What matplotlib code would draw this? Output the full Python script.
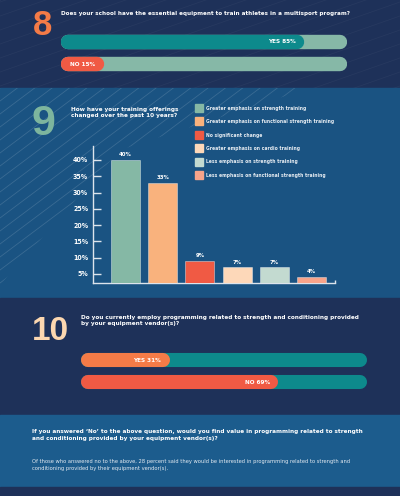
import matplotlib
matplotlib.use('Agg')
import matplotlib.pyplot as plt
from matplotlib import font_manager as fm
from matplotlib.patches import Rectangle, Polygon
import numpy as np

# pick a narrow face if one is installed, otherwise a plain sans
narrow = None
for f in fm.fontManager.ttflist:
    if 'Narrow' in f.name or 'Condensed' in f.name or f.stretch in ('condensed', 'semi-condensed'):
        narrow = (f.name, f.stretch)
        break
if narrow is None:
    narrow = ('Roboto', 'normal')
plt.rcParams['font.family'] = [narrow[0], 'DejaVu Sans']
plt.rcParams['font.stretch'] = narrow[1]
WIDE = ['Liberation Sans', 'DejaVu Sans']

# ---- data ----
q8_text = 'Does your school have the essential equipment to train athletes in a multisport program?'
q8_labels = ['YES', 'NO']
q8_values = [85, 15]

q9_text = 'How have your training offerings\nchanged over the past 10 years?'
q9_labels = ['Greater emphasis on strength training',
             'Greater emphasis on functional strength training',
             'No significant change',
             'Greater emphasis on cardio training',
             'Less emphasis on strength training',
             'Less emphasis on functional strength training']
q9_values = [40, 33, 9, 7, 7, 4]
q9_ticks = [5, 10, 15, 20, 25, 30, 35, 40]

q10_text = ('Do you currently employ programming related to strength and conditioning provided\n'
            'by your equipment vendor(s)?')
q10_labels = ['YES', 'NO']
q10_values = [31, 69]

followup_q = ("If you answered \u2018No\u2019 to the above question, would you find value in programming related to strength\n"
              "and conditioning provided by your equipment vendor(s)?")
followup_a = ("Of those who answered no to the above, 28 percent said they would be interested in programming related to strength and\n"
              "conditioning provided by their equipment vendor(s).")

# ---- colours ----
NAVY = '#1e3159'
BLUE = '#1a5382'
BLUE2 = '#1c5c8d'
ORANGE = '#f47b47'
RED = '#f05a44'
TEAL = '#0d8a8c'
SAGE_TRACK = '#86b8a7'
bar_colors = ['#85b8a5', '#f9b27d', '#f05a44', '#fdd8b9', '#c3dad0', '#f8a48a']
AXIS_C = '#dce4ec'

W, H = 400, 496
fig = plt.figure(figsize=(W / 100, H / 100), dpi=100)
renderer = fig.canvas.get_renderer()


def fit(artists, target_px):
    # scale font size so the widest artist is target_px wide
    w = max(a.get_window_extent(renderer).width for a in artists)
    size = artists[0].get_fontsize() * target_px / w
    for a in artists:
        a.set_fontsize(size)


# background layer in pixel coordinates
bg = fig.add_axes([0, 0, 1, 1])
bg.set_xlim(0, W)
bg.set_ylim(H, 0)
bg.axis('off')

bg.add_patch(Rectangle((0, 0), W, 88, color=NAVY, zorder=0))
bg.add_patch(Rectangle((0, 88), W, 210, color=BLUE, zorder=0))
bg.add_patch(Rectangle((0, 298), W, 117, color=NAVY, zorder=0))
bg.add_patch(Rectangle((0, 415), W, 72, color=BLUE2, zorder=0))
bg.add_patch(Rectangle((0, 487), W, 9, color=NAVY, zorder=0))

# diagonal stripes
xs = np.array([-20, 420])
clip2 = Polygon([(0, 88), (310, 88), (120, 150), (0, 285)], closed=True,
                transform=bg.transData, facecolor='none', edgecolor='none')
bg.add_patch(clip2)
for c in np.arange(88, 700, 13):
    ln, = bg.plot(xs, c - 0.75 * xs, color='white', alpha=0.14, lw=0.6, zorder=1)
    ln.set_clip_path(clip2)
clip1 = Rectangle((0, 0), W, 88, transform=bg.transData, facecolor='none', edgecolor='none')
bg.add_patch(clip1)
for c in np.arange(-40, 260, 14):
    ln, = bg.plot(xs, c - 0.35 * xs, color='white', alpha=0.04, lw=0.6, zorder=1)
    ln.set_clip_path(clip1)

# big numbers
bg.text(43, 35, '8', ha='center', va='baseline', fontsize=25, fontweight='bold',
        color=ORANGE, family=WIDE)
bg.text(43, 135, '9', ha='center', va='baseline', fontsize=31, fontweight='bold',
        color='#7db59e', family=WIDE)
t10 = bg.text(50, 340, '10', ha='center', va='baseline', fontsize=27, fontweight='bold',
              color='#fcd7b0', family=WIDE)
fit([t10], 37)

# question texts
t = bg.text(61, 14.5, q8_text, fontsize=5.3, fontweight='bold', color='white', va='baseline')
fit([t], 283)
t = bg.text(71, 112.5, q9_text, fontsize=5.5, fontweight='bold', color='white', va='top',
            linespacing=1.25)
fit([t], 107)
t.set_y(106.5)
t = bg.text(81, 314.5, q10_text, fontsize=5.5, fontweight='bold', color='white', va='top',
            linespacing=1.25)
fit([t], 278)
t = bg.text(32, 429.5, followup_q, fontsize=5.6, fontweight='bold', color='white', va='top',
            linespacing=1.3)
fit([t], 330)
t = bg.text(32, 459.5, followup_a, fontsize=4.4, color='#e3eaf1', va='top', linespacing=1.3)
fit([t], 321)

# legend for question 9
leg = []
for i, (lab, col) in enumerate(zip(q9_labels, bar_colors)):
    y = 104 + i * 13.4
    bg.add_patch(Rectangle((195, y), 8, 8, color=col, zorder=2))
    leg.append(bg.text(206.5, y + 4.3, lab, fontsize=4.6, color='#e6ecf2', va='center',
                       fontweight='bold'))
fit(leg, 127)


def progress(x0, x1, y0, y1, labels, values, fills, track):
    ax = fig.add_axes([x0 / W, 1 - y1 / H, (x1 - x0) / W, (y1 - y0) / H])
    ax.set_xlim(0, 100)
    ax.set_ylim(len(values) - 0.5, -0.5)
    ax.axis('off')
    ax.patch.set_alpha(0)
    row_px = (y1 - y0) / len(values)
    lw = row_px * 0.64 * 72 / 100
    cap = (lw * 100 / 72) / 2 / (x1 - x0) * 100
    texts = []
    for i, (lab, v, fc) in enumerate(zip(labels, values, fills)):
        ax.plot([cap, 100 - cap], [i, i], color=track, lw=lw, solid_capstyle='round')
        ax.plot([cap, max(v - cap, cap)], [i, i], color=fc, lw=lw, solid_capstyle='round')
        texts.append(ax.annotate(f'{lab} {v}%', xy=(v, i), xytext=(-6, -0.3),
                                 textcoords='offset points', ha='right', va='center',
                                 color='white', fontsize=5.6, fontweight='bold'))
    fit(texts, 28)
    return ax


progress(61, 347, 30.25, 75.25, q8_labels, q8_values, [TEAL, RED], SAGE_TRACK)
progress(81, 367, 349, 393, q10_labels, q10_values, [ORANGE, RED], TEAL)

# bar chart for question 9
ax = fig.add_axes([93 / W, 1 - 283 / H, 242 / W, 137 / H])
ax.patch.set_alpha(0)
xpos = np.arange(len(q9_values))
bars = ax.bar(xpos, q9_values, width=0.78, color=bar_colors,
              edgecolor=(1, 1, 1, 0.45), linewidth=0.6, zorder=3)
vlabels = ax.bar_label(bars, labels=[f'{v}%' for v in q9_values], padding=2, color='white',
                       fontsize=5.2, fontweight='bold')
ax.set_xlim(-0.87, 5.63)
ax.set_ylim(2.2, 44.3)
ax.set_yticks(q9_ticks)
ax.set_yticklabels([f'{t}%' for t in q9_ticks])
ax.set_xticks([])
ax.set_xticks([5.63], minor=True)
for s in ['top', 'right']:
    ax.spines[s].set_visible(False)
for s in ['left', 'bottom']:
    ax.spines[s].set_color(AXIS_C)
    ax.spines[s].set_linewidth(1)
ax.tick_params(axis='y', direction='in', length=5.5, width=1, color=AXIS_C,
               labelcolor='white', labelsize=6, pad=3.5)
ax.tick_params(axis='x', which='minor', direction='in', length=2.5, width=1, color=AXIS_C)
for t in ax.get_yticklabels():
    t.set_fontweight('bold')
fit(list(vlabels), 13)
ticklabs = ax.get_yticklabels()
fit(ticklabs, 15)
ax.tick_params(axis='y', labelsize=ticklabs[0].get_fontsize())

fig.savefig('out.png', dpi=100)
